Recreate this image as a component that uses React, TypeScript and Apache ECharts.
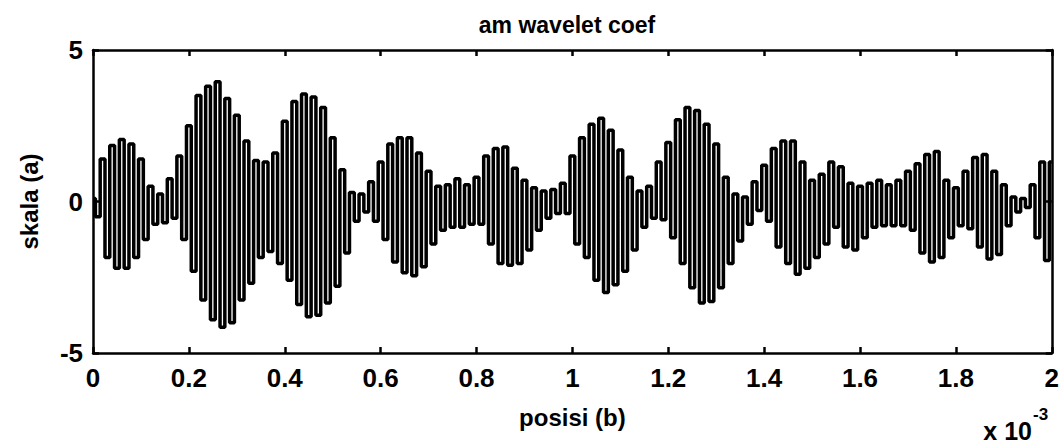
import React, { useEffect, useRef } from "react";
import * as echarts from "echarts";

// Wavelet coefficient samples, alternating crest / trough, spaced 0.01e-3 apart.
const crests = [
  0.1, 1.4, 1.85, 2.05, 1.9, 1.4, 0.5, 0.25, 0.75, 1.5,
  2.5, 3.5, 3.8, 3.95, 3.4, 2.85, 2.0, 1.35, 1.3, 1.6,
  2.65, 3.3, 3.55, 3.45, 3.1, 2.1, 1.05, 0.3, 0.25, 0.65,
  1.3, 1.9, 2.1, 2.1, 1.6, 1.0, 0.5, 0.55, 0.75, 0.55,
  0.8, 1.5, 1.75, 1.8, 1.1, 0.7, 0.45, 0.35, 0.4, 0.6,
  1.5, 2.1, 2.55, 2.75, 2.35, 1.7, 0.8, 0.35, 0.5, 1.3,
  1.95, 2.7, 3.1, 3.0, 2.55, 1.9, 0.8, 0.25, 0.15, 0.65,
  1.2, 1.75, 2.0, 2.0, 1.3, 0.7, 0.9, 1.3, 1.15, 0.6,
  0.5, 0.6, 0.7, 0.55, 0.7, 1.0, 1.25, 1.55, 1.65, 0.7,
  0.45, 1.0, 1.45, 1.55, 1.0, 0.55, 0.15, 0.1, 0.55, 1.3,
  1.3,
];

const troughs = [
  -0.5, -1.85, -2.2, -2.2, -1.85, -1.25, -0.75, -0.7, -0.55, -1.25,
  -2.3, -3.25, -3.9, -4.15, -4.0, -3.25, -2.7, -1.85, -1.65, -2.05,
  -2.6, -3.4, -3.8, -3.75, -3.35, -2.8, -1.7, -0.65, -0.35, -0.65,
  -1.25, -2.0, -2.35, -2.45, -2.15, -1.4, -0.95, -0.85, -0.85, -0.75,
  -0.75, -1.4, -2.05, -2.1, -2.05, -1.6, -0.95, -0.55, -0.4, -0.4,
  -1.4, -1.85, -2.6, -3.0, -2.75, -2.3, -1.6, -0.85, -0.55, -0.6,
  -1.2, -2.05, -2.85, -3.35, -3.3, -2.85, -2.05, -1.3, -0.75, -0.3,
  -0.65, -1.5, -2.05, -2.4, -2.2, -1.85, -1.4, -0.85, -1.5, -1.6,
  -1.2, -0.85, -0.8, -0.8, -0.8, -0.95, -1.7, -2.0, -1.85, -1.2,
  -0.8, -0.9, -1.5, -1.9, -1.75, -0.8, -0.35, -0.2, -1.2, -1.95,
];

const sampleStep = 0.01; // in units of 1e-3
const xTicks = [0, 0.2, 0.4, 0.6, 0.8, 1, 1.2, 1.4, 1.6, 1.8, 2];
const yTicks = [-5, 0, 5];

const FONT = "'Liberation Sans', Arial, sans-serif";

export default function App() {
  const ref = useRef<HTMLDivElement>(null);

  useEffect(() => {
    if (!ref.current) return;
    const chart = echarts.init(ref.current, undefined, { renderer: "svg" });

    const coef: number[] = [];
    crests.forEach((c, k) => {
      coef.push(c);
      if (k < troughs.length) coef.push(troughs[k]);
    });
    const data = coef.map((v, i) => [i * sampleStep, v]);

    const axisLine = { show: true, onZero: false, lineStyle: { color: "#000", width: 2.5 } };
    const tick = { show: true, inside: true, length: 6, lineStyle: { color: "#000", width: 2.5 } };
    const labelStyle = { color: "#000", fontFamily: FONT, fontWeight: "bold" as const, fontSize: 26 };

    chart.setOption({
      animation: false,
      backgroundColor: "#fff",
      grid: { left: 93, right: 10, top: 50, bottom: 94, containLabel: false },
      xAxis: [
        {
          type: "value",
          min: xTicks[0],
          max: xTicks[xTicks.length - 1],
          interval: 0.2,
          axisLine,
          axisTick: tick,
          splitLine: { show: false },
          axisLabel: {
            ...labelStyle,
            margin: 12,
            formatter: (v: number) => String(+v.toFixed(1)),
          },
          name: "posisi (b)",
          nameLocation: "middle",
          nameGap: 52,
          nameTextStyle: { ...labelStyle, fontSize: 24 },
        },
        {
          type: "value",
          position: "top",
          min: xTicks[0],
          max: xTicks[xTicks.length - 1],
          interval: 0.2,
          axisLine,
          axisTick: tick,
          splitLine: { show: false },
          axisLabel: { show: false },
        },
      ],
      yAxis: [
        {
          type: "value",
          min: yTicks[0],
          max: yTicks[yTicks.length - 1],
          interval: 5,
          axisLine,
          axisTick: tick,
          splitLine: { show: false },
          axisLabel: { ...labelStyle, margin: 10 },
          name: "skala (a)",
          nameLocation: "middle",
          nameGap: 52,
          nameRotate: 90,
          nameTextStyle: { ...labelStyle, fontSize: 24 },
        },
        {
          type: "value",
          position: "right",
          min: yTicks[0],
          max: yTicks[yTicks.length - 1],
          interval: 5,
          axisLine,
          axisTick: tick,
          splitLine: { show: false },
          axisLabel: { show: false },
        },
      ],
      graphic: [
        {
          type: "text",
          x: 567,
          y: 25,
          style: {
            text: "am wavelet coef",
            fill: "#000",
            font: `bold 23px ${FONT}`,
            textAlign: "center",
            textVerticalAlign: "middle",
          },
        },
        {
          type: "text",
          x: 1032,
          y: 431,
          style: {
            text: "x 10",
            fill: "#000",
            font: `bold 25px ${FONT}`,
            textAlign: "right",
            textVerticalAlign: "middle",
          },
        },
        {
          type: "text",
          x: 1033,
          y: 414,
          style: {
            text: "-3",
            fill: "#000",
            font: `bold 17px ${FONT}`,
            textAlign: "left",
            textVerticalAlign: "middle",
          },
        },
      ],
      series: [
        {
          type: "line",
          xAxisIndex: 0,
          yAxisIndex: 0,
          data,
          step: "middle",
          showSymbol: false,
          symbol: "none",
          lineStyle: { color: "#000", width: 3.5 },
        },
      ],
    });

    return () => chart.dispose();
  }, []);

  return (
    <div
      ref={ref}
      style={{ position: "fixed", left: 0, top: 0, width: 1062, height: 447, background: "#fff" }}
    />
  );
}
